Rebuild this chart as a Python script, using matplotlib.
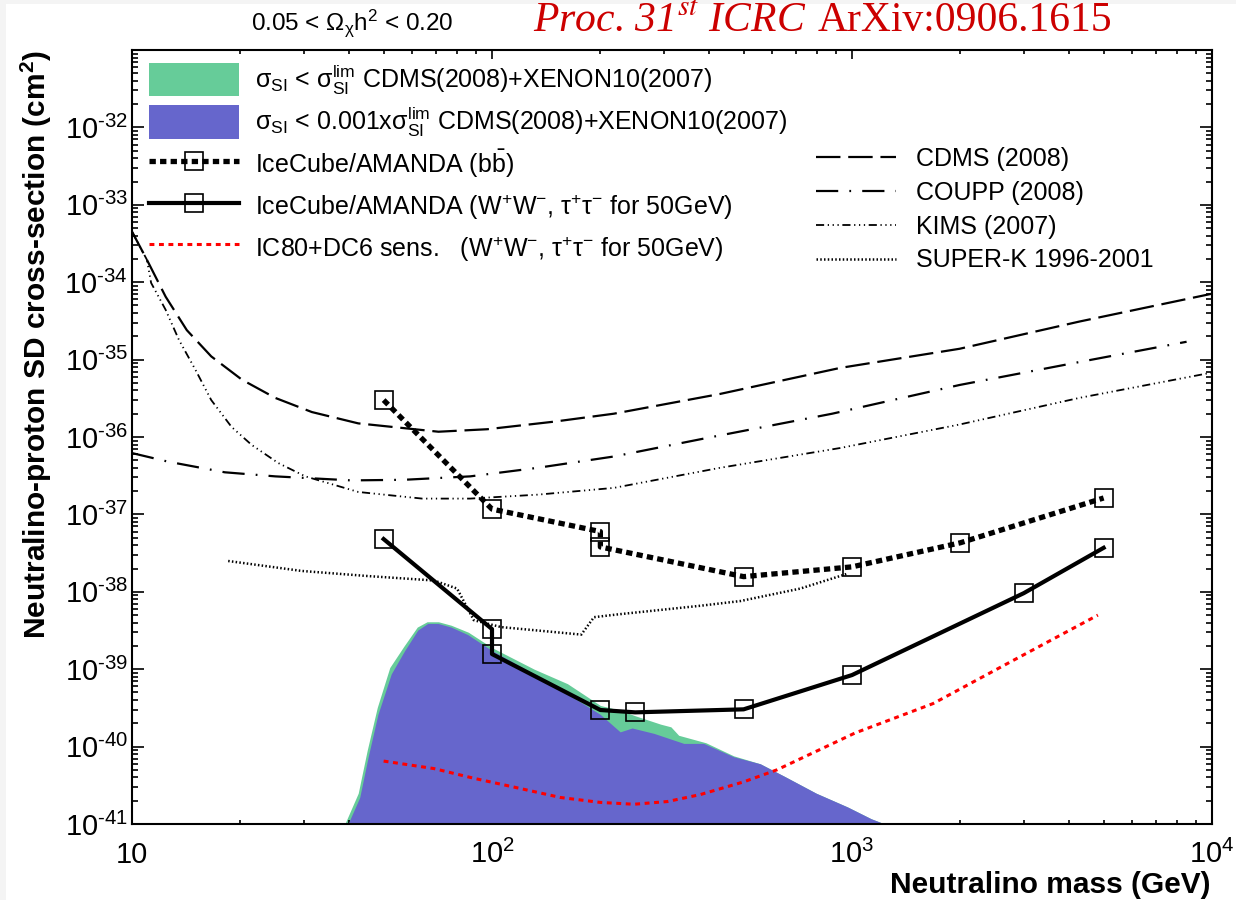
import numpy as np
import matplotlib
matplotlib.use('Agg')
import matplotlib.pyplot as plt
from matplotlib.ticker import FixedLocator, FuncFormatter, NullFormatter

plt.rcParams['font.family'] = ['Liberation Sans', 'DejaVu Sans']
plt.rcParams['mathtext.fontset'] = 'custom'
plt.rcParams['mathtext.rm'] = 'Liberation Sans'
plt.rcParams['mathtext.it'] = 'Liberation Sans:italic'
plt.rcParams['mathtext.bf'] = 'Liberation Sans:bold'

# Direct detection limits (mass in GeV, SD cross-section in cm^2)
cdms_mass = [10, 11, 12.4, 14.2, 16.6, 20.2, 25, 31.6, 42.5, 71, 97, 149, 218, 430, 926, 1990, 4280, 10000]
cdms_sigma = [4.5e-34, 1.95e-34, 6.5e-35, 2.4e-35, 1.1e-35, 5.5e-36, 3.2e-36, 2.1e-36, 1.5e-36, 1.17e-36,
              1.26e-36, 1.58e-36, 2.0e-36, 3.6e-36, 7.8e-36, 1.38e-35, 3.1e-35, 7.1e-35]

coupp_mass = [10, 12.6, 18.1, 25, 40.7, 57, 87, 134, 218, 399, 881, 1990, 4280, 8500]
coupp_sigma = [6.2e-37, 4.8e-37, 3.5e-37, 3.1e-37, 2.75e-37, 2.8e-37, 3.1e-37, 4.0e-37, 5.6e-37, 9.8e-37,
               2.0e-36, 4.7e-36, 9.3e-36, 1.7e-35]

kims_mass = [10, 11, 11.3, 12.4, 13.5, 15, 16.6, 18.9, 21.5, 25.5, 30.3, 42.5, 64, 87, 134, 218, 430, 926,
             1990, 4280, 10000]
kims_sigma = [4.5e-34, 1.95e-34, 9.8e-35, 4.4e-35, 1.8e-35, 7.4e-36, 3.0e-36, 1.35e-36, 7.9e-37, 4.6e-37,
              3.1e-37, 1.95e-37, 1.6e-37, 1.6e-37, 1.8e-37, 2.2e-37, 4.0e-37, 7.2e-37, 1.45e-36, 3.2e-36, 6.8e-36]

superk_mass = [18.5, 29.6, 45, 69, 80, 89, 106, 177, 192, 223, 379, 490, 718, 966]
superk_sigma = [2.5e-38, 1.86e-38, 1.6e-38, 1.4e-38, 1.1e-38, 4.3e-39, 3.5e-39, 2.8e-39, 4.7e-39, 5.1e-39,
                6.6e-39, 7.6e-39, 1.1e-38, 1.7e-38]

# IceCube/AMANDA limits
bb_mass = [50, 100, 200, 200, 500, 1000, 2000, 5000]
bb_sigma = [3.0e-36, 1.17e-37, 6.0e-38, 3.8e-38, 1.57e-38, 2.1e-38, 4.3e-38, 1.63e-37]

ww_mass = [50, 100, 100, 200, 250, 500, 1000, 3000, 5000]
ww_sigma = [4.8e-38, 3.3e-39, 1.57e-39, 2.97e-40, 2.77e-40, 3.03e-40, 8.4e-40, 9.6e-39, 3.7e-38]

# IC80+DC6 sensitivity
ic80_mass = [50, 69, 89, 115, 155, 200, 248, 307, 379, 500, 618, 1020, 1680, 2770, 4820]
ic80_sigma = [6.5e-41, 5.2e-41, 3.9e-41, 3.0e-41, 2.2e-41, 1.9e-41, 1.8e-41, 1.95e-41, 2.4e-41, 3.5e-41,
              5.0e-41, 1.5e-40, 3.6e-40, 1.26e-39, 5.0e-39]

# MSSM scan regions (upper envelope)
green_mass = [39, 42.5, 45, 48, 52, 57, 62, 66, 71, 77, 86, 100, 131, 162, 200, 227, 250, 294, 314, 330,
              393, 469, 556, 651, 795, 972, 1130, 1233]
green_sigma = [1e-41, 2.5e-41, 8.9e-41, 3.2e-40, 1.05e-39, 2.0e-39, 3.5e-39, 4.1e-39, 4.1e-39, 3.7e-39,
               3.0e-39, 1.9e-39, 1.0e-39, 6.5e-40, 3.4e-40, 2.95e-40, 2.5e-40, 1.95e-40, 1.8e-40, 1.4e-40,
               1.12e-40, 7.6e-41, 6.0e-41, 4.1e-41, 2.5e-41, 1.66e-41, 1.17e-41, 1e-41]

blue_mass = [39.8, 42.9, 45.3, 48.2, 52.5, 57.2, 62.2, 66.3, 70.8, 77, 85.6, 100, 131, 162, 200, 227, 245,
             282, 341, 387, 469, 556, 651, 795, 972, 1130, 1233]
blue_sigma = [1e-41, 2.2e-41, 7.4e-41, 2.6e-40, 8.7e-40, 1.74e-39, 3.2e-39, 3.9e-39, 3.9e-39, 3.5e-39,
              2.8e-39, 1.74e-39, 8.7e-40, 4.8e-40, 2.6e-40, 1.55e-40, 1.74e-40, 1.48e-40, 1.1e-40, 1.1e-40,
              7.4e-41, 6.0e-41, 4.1e-41, 2.5e-41, 1.66e-41, 1.17e-41, 1e-41]

x_ticks = [10, 100, 1000, 10000]
x_ticklabels = ['10', r'$\mathregular{10^{2}}$', r'$\mathregular{10^{3}}$', r'$\mathregular{10^{4}}$']
y_exponents = [-41, -40, -39, -38, -37, -36, -35, -34, -33, -32, -31]


def y_label(v, pos):
    e = int(round(np.log10(v)))
    if e == -31:
        return ''
    return r'$\mathregular{10^{\text{-}%d}}$' % -e


fig = plt.figure(figsize=(12.36, 9), dpi=100)
fig.patch.set_facecolor('#f4f4f4')
fig.patches.append(plt.Rectangle((6 / 1236, 0), 1, 1 - 4 / 900, transform=fig.transFigure,
                                 facecolor='white', edgecolor='none', zorder=-10))
ax = fig.add_axes([132 / 1236, 1 - 824 / 900, 1080 / 1236, 774 / 900])

green = ax.fill_between(green_mass, 1e-41, green_sigma, color='#66cc99', lw=0, zorder=1,
                        label=r'$\mathregular{\sigma_{SI}}$ < $\mathregular{\sigma_{SI}^{lim}}$ CDMS(2008)+XENON10(2007)')
blue = ax.fill_between(blue_mass, 1e-41, blue_sigma, color='#6666cc', lw=0, zorder=2,
                       label=r'$\mathregular{\sigma_{SI}}$ < 0.001x$\mathregular{\sigma_{SI}^{lim}}$ CDMS(2008)+XENON10(2007)')

cdms, = ax.plot(cdms_mass, cdms_sigma, color='black', lw=1.6, dashes=(11, 3.5), zorder=3, label='CDMS (2008)')
coupp, = ax.plot(coupp_mass, coupp_sigma, color='black', lw=1.6, dashes=(10, 5, 0.8, 5), zorder=3,
                 label='COUPP (2008)')
kims, = ax.plot(kims_mass, kims_sigma, color='black', lw=1.3, dashes=(4.5, 2, 0.7, 2, 0.7, 2, 0.7, 2), zorder=3,
                label='KIMS (2007)')
superk, = ax.plot(superk_mass, superk_sigma, color='black', lw=1.8, dashes=(0.6, 0.9), zorder=3,
                  label='SUPER-K 1996-2001')

bb, = ax.plot(bb_mass, bb_sigma, color='black', lw=3.8, dashes=(1.2, 0.8), marker='s', ms=13.5,
              mfc='none', mec='black', mew=1.2, zorder=4, label=r'IceCube/AMANDA (b$\mathregular{\bar{b}}$)')
ww, = ax.plot(ww_mass, ww_sigma, color='black', lw=3, marker='s', ms=13.5, mfc='none', mec='black', mew=1.2,
              zorder=4, label=r'IceCube/AMANDA ($\mathregular{W^{+}W^{-}}$, $\mathregular{\tau^{+}\tau^{-}}$ for 50GeV)')
ic80, = ax.plot(ic80_mass, ic80_sigma, color='red', lw=2.2, dashes=(1.6, 1.5), zorder=4,
                label=r'IC80+DC6 sens.   ($\mathregular{W^{+}W^{-}}$, $\mathregular{\tau^{+}\tau^{-}}$ for 50GeV)')

ax.set_xscale('log')
ax.set_yscale('log')
ax.set_xlim(10, 1e4)
ax.set_ylim(1e-41, 1e-31)

ax.xaxis.set_major_locator(FixedLocator(x_ticks))
ax.xaxis.set_major_formatter(FuncFormatter(lambda v, pos: x_ticklabels[x_ticks.index(int(round(v)))]))
ax.xaxis.set_minor_locator(FixedLocator([m * 10 ** d for d in range(1, 4) for m in range(2, 10)]))
ax.xaxis.set_minor_formatter(NullFormatter())

ax.yaxis.set_major_locator(FixedLocator([10.0 ** e for e in y_exponents]))
ax.yaxis.set_major_formatter(FuncFormatter(y_label))
ax.yaxis.set_minor_locator(FixedLocator([m * 10.0 ** e for e in y_exponents[:-1] for m in range(2, 10)]))
ax.yaxis.set_minor_formatter(NullFormatter())

ax.tick_params(which='both', direction='in', top=True, right=True, width=1.2, labelsize=21)
ax.tick_params(axis='x', which='major', length=6.5, pad=28)
ax.tick_params(axis='x', which='minor', length=3.2)
ax.tick_params(axis='y', which='major', length=8.6, pad=3)
ax.tick_params(axis='y', which='minor', length=4.3)
for lab in ax.get_xticklabels():
    lab.set_verticalalignment('baseline')
for sp in ax.spines.values():
    sp.set_linewidth(1.5)

leg1 = ax.legend(handles=[green, blue, bb, ww, ic80], loc='upper left', bbox_to_anchor=(0.0157, 0.9835),
                 frameon=False, fontsize=18, handlelength=3.6, handleheight=1.68, handletextpad=0.65,
                 labelspacing=0.33, borderpad=0, borderaxespad=0, numpoints=1)
ax.add_artist(leg1)
ax.legend(handles=[cdms, coupp, kims, superk], loc='upper left', bbox_to_anchor=(0.633, 0.8745),
          frameon=False, fontsize=18, handlelength=3.2, handletextpad=0.8, labelspacing=0.39,
          borderpad=0, borderaxespad=0)

fig.text(36 / 1236, 1 - 50 / 900, r'Neutralino-proton SD cross-section (cm$\mathbf{^{2}}$)', rotation=90,
         ha='center', va='top', fontsize=21.5, fontweight='bold')
fig.text(1210 / 1236, 1 - 885 / 900, 'Neutralino mass (GeV)', ha='right', va='center', fontsize=21.5,
         fontweight='bold')
fig.text(352 / 1236, 1 - 30 / 900, r'0.05 < $\mathregular{\Omega_{\chi}h^{2}}$ < 0.20', ha='center',
         va='baseline', fontsize=17.5)
fig.text(806 / 1236, 1 - 31 / 900, r'Proc. 31$^{st}$ ICRC', ha='right', va='baseline', fontsize=30,
         family='Liberation Serif', style='italic', color='#cc0000', math_fontfamily='stix')
fig.text(818 / 1236, 1 - 31 / 900, 'ArXiv:0906.1615', ha='left', va='baseline', fontsize=30,
         family='Liberation Serif', color='#cc0000')

fig.savefig('out.png', dpi=100)
